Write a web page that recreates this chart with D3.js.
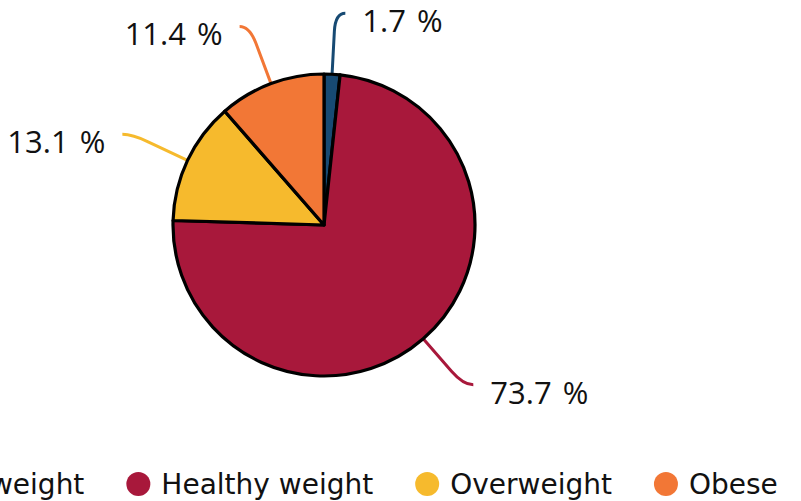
<!DOCTYPE html>
<html>
<head>
<meta charset="utf-8">
<script src="https://cdn.jsdelivr.net/npm/d3@7"></script>
<style>
  body { margin: 0; background: #fff; }
  svg { display: block; }
  .lbl { font-family: "Open Sans", sans-serif; font-size: 31px; word-spacing: 3px; fill: #111; }
  .leg { font-family: "DejaVu Sans", sans-serif; font-size: 28px; fill: #111; }
</style>
</head>
<body>
<div id="dataviz"></div>
<script>
// data
var categories = ["Underweight", "Healthy weight", "Overweight", "Obese"];
var shares = [1.7, 73.7, 13.1, 11.4];
var colours = ["#174a73", "#a8183b", "#f6ba2d", "#f27736"];

var width = 801, height = 501;
var cx = 324, cy = 225, radius = 151;
var labelR = 212;   // radius where connectors turn horizontal

var svg = d3.select("#dataviz")
  .append("svg")
    .attr("width", width)
    .attr("height", height);

var pie = d3.pie().sort(null).value(function(d) { return d; });
var arcs = pie(shares);
var arc = d3.arc().innerRadius(0).outerRadius(radius);

var g = svg.append("g")
  .attr("transform", "translate(" + cx + "," + cy + ")");

// connectors first, so the slices sit above them
arcs.forEach(function(d, i) {
  var a = (d.startAngle + d.endAngle) / 2;
  var s = Math.sin(a), c = Math.cos(a);
  var side = s >= 0 ? 1 : -1;
  var x0 = radius * s, y0 = -radius * c;
  var ly = -labelR * c;
  var ex = labelR * s;                     // elbow
  var t = labelR - 18;
  var x1 = t * s, y1 = -t * c;
  var x2 = ex + side * 10;
  var path = "M" + x0 + "," + y0 + "L" + x1 + "," + y1 +
             "Q" + ex + "," + ly + " " + x2 + "," + ly;
  g.append("path")
    .attr("d", path)
    .attr("fill", "none")
    .attr("stroke", colours[i])
    .attr("stroke-width", 3);

  g.append("text")
    .attr("class", "lbl")
    .attr("x", x2 + side * 17)
    .attr("y", ly + 19)
    .attr("text-anchor", side > 0 ? "start" : "end")
    .text(shares[i].toFixed(1) + " %");
});

g.selectAll("path.slice")
  .data(arcs)
  .enter()
  .append("path")
    .attr("class", "slice")
    .attr("d", arc)
    .attr("fill", function(d, i) { return colours[i]; })
    .attr("stroke", "#000")
    .attr("stroke-width", 3.2)
    .attr("stroke-linejoin", "round");

// legend along the bottom, centred on the pie
var legend = svg.append("g");
var items = legend.selectAll("g")
  .data(categories)
  .enter()
  .append("g");

items.append("circle")
  .attr("r", 12)
  .attr("cx", 12)
  .attr("cy", 0)
  .attr("fill", function(d, i) { return colours[i]; });

items.append("text")
  .attr("class", "leg")
  .attr("x", 35)
  .attr("y", 10)
  .text(function(d) { return d; });

var xpos = 0;
items.each(function() {
  var w = d3.select(this).select("text").node().getComputedTextLength();
  d3.select(this).attr("transform", "translate(" + xpos + ",0)");
  xpos += 35 + w + 42;
});
var total = xpos - 42;
legend.attr("transform", "translate(" + (324 - total / 2) + ",484)");
</script>
</body>
</html>
